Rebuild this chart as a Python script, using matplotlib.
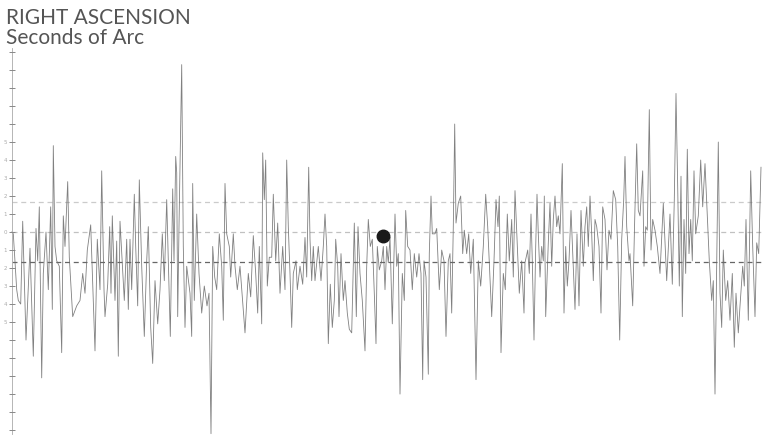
import matplotlib
matplotlib.use("Agg")
import matplotlib.pyplot as plt
import numpy as np

# position along the record (arbitrary units) and right ascension residual (tenths of arc-second)
pos = [11.7, 13.3, 16.7, 18.3, 20.7, 22.7, 26.0, 30.0, 33.3, 36.0, 37.7, 39.3, 41.7, 43.3, 46.0, 48.3,
       50.7, 52.3, 53.3, 55.0, 56.7, 59.3, 61.7, 63.3, 65.0, 67.7, 69.3, 72.7, 76.7, 80.0, 82.7, 85.0,
       87.3, 90.7, 95.0, 97.3, 100.0, 101.7, 104.0,
       105.0, 107.7, 109.7, 111.0, 112.3, 115.0, 116.7, 118.3, 120.0, 122.3, 124.3, 126.7, 128.3, 130.0,
       131.7, 134.3, 135.7, 137.7, 139.3, 141.7, 144.3, 146.7, 148.3, 150.7, 152.7, 155.0, 157.7, 160.0,
       162.3, 164.3, 166.7, 168.3, 170.3, 172.7, 174.0, 175.7, 176.7, 177.7, 179.0, 181.7, 183.3, 185.0,
       186.7, 190.0, 191.7, 192.7, 194.3, 196.7, 199.0, 201.7, 204.3, 207.0, 209.0, 211.0,
       212.7, 214.7, 216.7, 219.3, 221.7, 223.3, 225.0, 226.7, 229.3, 230.7, 233.3, 235.0, 237.3, 240.0,
       242.3, 245.0, 248.3, 250.7, 253.3, 255.7, 257.7, 259.3, 261.7, 262.7, 264.3, 265.7, 267.3, 269.3,
       271.7, 273.3, 275.7, 277.7, 280.0, 282.7, 285.0, 286.7, 288.3, 290.0, 291.7, 293.3, 296.0, 297.3,
       300.0, 302.7, 305.0, 306.7, 308.7, 310.0, 311.7, 313.3,
       315.0, 318.3, 321.0, 323.3, 325.0, 326.7, 328.3, 330.3, 332.3, 334.3, 335.7, 337.7, 339.0, 341.0,
       343.3, 345.0, 347.3, 349.3, 351.7, 354.3, 356.3, 358.0, 360.0, 362.3, 365.0, 366.7, 368.3, 370.3,
       372.3, 374.3, 376.0, 377.3, 379.3, 381.7, 383.3, 385.0, 386.7, 388.3, 390.0, 392.3, 395.0, 396.7,
       398.3, 400.0, 402.3, 404.3, 405.7, 407.7, 410.0, 412.3, 414.3, 416.7, 419.0, 421.0, 422.7,
       424.0, 426.0, 428.3, 429.3, 431.0, 432.3, 435.0, 436.7, 439.3, 441.7, 444.0, 446.0, 448.3, 450.0,
       451.7, 453.3, 454.7, 456.0, 458.3, 460.7, 462.7, 464.3, 466.7, 468.7, 470.7, 473.3, 476.0, 478.3,
       480.7, 483.3, 485.7, 487.7, 490.0, 491.7, 494.0, 496.0, 498.0, 499.3, 501.0, 503.3, 505.3, 507.3,
       509.3, 511.7, 513.3, 515.0, 517.3, 519.3, 521.7, 524.0,
       525.0, 527.7, 529.3, 531.0, 532.3, 534.0, 535.7, 537.0, 538.3, 540.0, 541.7, 543.3, 544.3, 545.7,
       548.3, 550.0, 551.7, 553.3, 555.0, 556.7, 558.3, 560.0, 562.3, 564.0, 565.7, 567.3, 569.0, 571.0,
       572.7, 575.0, 577.0, 579.0, 581.0, 583.3, 585.0, 586.7, 588.3, 590.0, 591.7, 593.3, 595.0, 596.7,
       599.0, 601.0, 602.7, 605.0, 607.0, 609.0, 611.0, 613.3, 615.7, 617.7, 619.7, 621.7, 623.7, 625.0,
       626.7, 629.0,
       630.0, 632.7, 634.7, 636.7, 638.3, 640.0, 642.7, 644.0, 645.7, 647.3, 649.3, 651.0, 652.7, 655.0,
       657.3, 660.0, 663.3, 666.7, 670.0, 672.3, 674.3, 676.0, 677.7, 679.3, 681.0, 682.3, 684.0, 685.7,
       687.3, 689.0, 690.7, 692.3, 694.0, 695.7, 698.3, 700.7, 702.7, 705.0, 707.3, 709.3, 711.7, 713.3,
       715.0, 716.7, 718.3, 720.0, 721.7, 723.3, 725.7, 727.7, 730.0, 732.3, 734.3, 736.0, 738.3, 740.0,
       742.7, 744.3, 746.0, 748.3, 750.7, 752.7, 755.0, 756.7, 758.7, 761.0]

ra = [0.0, -0.1, -3.2, -3.8, -4.0, 0.6, -6.0, -0.9, -6.9, 0.2, -1.6, 1.4, -8.1, -2.3, 0.0, -3.2,
      1.4, -4.3, 4.8, -0.8, -1.6, -1.9, -6.7, 0.9, -0.8, 2.8, -1.4, -4.7, -4.1, -3.8, -2.3, -3.4,
      -1.0, 0.4, -6.6, -0.4, -3.2, 3.4, -3.2,
      -4.7, -2.9, 0.3, -3.4, 0.9, -3.8, -0.5, -6.9, 0.6, -1.7, -3.8, -0.4, -4.3, -0.4,
      -3.2, 2.1, -0.8, -4.1, 2.9, -1.9, -5.8, -1.6, 0.3, -5.3, -7.3, -2.7, -5.1, -3.2,
      -0.1, -2.7, 1.8, -1.6, -5.8, 2.4, -1.6, 4.2, 3.3, -4.7, 0.3, 9.3, -0.8, -5.3,
      -1.9, -3.4, -5.8, 2.7, -3.8, 1.0, -2.3, -4.5, -3.0, -4.1, -3.4, -11.2,
      -0.8, -2.5, -3.2, -0.1, -1.9, -4.9, 2.7, -0.1, -0.8, -2.5, -0.1, -1.9, -3.2, -1.9,
      -3.6, -5.6, -2.3, -3.6, -0.2, -2.3, -4.5, -0.8, -5.1, 4.4, 1.8, 4.0, -3.0, -1.4,
      -1.4, 2.1, -1.6, 0.5, -3.4, -0.8, -3.2, 4.0, 0.3, -2.3, -5.3, -2.3, -1.6, -3.2,
      -1.9, -2.9, -0.3, -2.5, 3.6, -0.4, -2.7, -0.8,
      -2.7, -0.8, -2.7, -0.8, 1.0, -0.8, -6.2, -2.9, -5.3, -3.8, -0.4, -1.9, -4.7, -1.2,
      -3.8, -2.7, -4.5, -5.4, -5.6, 0.5, -4.7, 0.3, -2.3, -3.8, -6.6, -1.9, 0.7, -0.8,
      -0.4, -3.4, -6.2, -0.8, -2.1, -1.6, -0.8, -3.2, -0.8, -1.7, -0.3, -5.1, 1.0, -1.9,
      -1.2, -9.0, -2.3, -3.8, 1.2, -0.8, -1.0, -3.2, -1.2, -2.5, -1.2, -2.3, -8.2,
      -1.6, -2.5, -7.9, -1.2, 2.0, -0.1, -0.1, 0.2, -3.2, -1.0, -1.6, -5.8, -1.6, -1.2,
      -4.5, 0.3, 6.0, 0.5, 1.6, 2.0, -1.2, 0.1, -1.2, -0.1, -2.3, -0.4, -8.2, -1.6,
      -3.0, -0.8, 2.1, 0.3, -2.5, -4.7, -1.6, 1.8, 0.3, 2.0, -6.7, -2.3, -3.2, 1.0,
      -1.6, 0.7, -2.5, 2.3, -0.8, -3.4, -1.6, -4.5,
      -1.7, -1.0, -2.3, 1.0, -1.6, -6.0, -0.8, 2.1, -0.1, -2.5, -0.8, -1.6, 2.0, -4.7,
      -0.6, 1.6, -1.9, 0.7, 2.0, 0.3, 0.9, -0.1, 3.8, -4.5, -0.8, -3.0, -1.6, 1.2,
      -1.2, -4.3, -0.1, -4.1, 1.2, -1.9, 0.3, 1.4, -0.8, 2.0, -0.1, -2.7, 0.7, 0.3,
      -0.8, -4.5, 1.4, 0.7, -2.1, 0.1, -0.4, 2.3, 1.8, -0.8, -6.0, -0.4, 1.8, 4.2,
      0.3, -1.6,
      -1.2, -4.1, 0.7, 4.9, 1.2, 0.9, 3.4, -1.9, 0.3, 0.1, 6.8, -1.0, 0.7, 0.1,
      -0.8, -2.3, 1.6, -2.7, 1.0, -2.9, 1.8, 7.7, 2.5, -3.0, 3.1, -4.7, 0.7, -2.3,
      4.6, -1.2, 0.7, -1.6, 3.4, -0.1, 0.9, 4.0, 1.4, 3.8, 0.9, -1.6, -3.8, -2.7,
      -9.0, -1.9, 5.0, -3.4, -5.3, -1.0, -3.8, -2.7, -4.9, -2.3, -6.4, -3.4, -5.6, -4.1,
      -1.9, -3.0, 0.7, -4.9, 3.4, -0.8, -4.7, -0.6, -1.2, 3.6]

# reference levels and the marked point
levels = [1.67, 0.0, -1.67]
level_alpha = [0.25, 0.3, 0.75]
mark_pos, mark_val = 383, -0.22

tick_vals = list(range(-11, 11))
label_vals = [5, 4, 3, 2, 1, 0, -1, -2, -3, -4, -5]
label_text = ["5", "4", "3", "2", "1", "0", "1", "2", "3", "4", "5"]

fig = plt.figure(figsize=(7.62, 4.36), dpi=100)
ax = fig.add_axes([0, 0, 1, 1])
ax.set_xlim(0, 762)
ax.set_ylim(-11.33, 12.89)
ax.axis("off")

for lv, a in zip(levels, level_alpha):
    ax.plot([12, 762], [lv, lv], color="#333333", lw=0.9, alpha=a,
            dashes=(4, 3))

ax.plot(pos, ra, color="#6a6a6a", lw=0.6, alpha=0.85)
ax.plot([mark_pos], [mark_val], "o", color="#1a1a1a", ms=9)

# left scale
ax.plot([12, 12], [tick_vals[0] - 0.2, tick_vals[-1] + 0.2], color="#aaaaaa", lw=0.6)
ax.plot([12] * len(tick_vals), tick_vals, "_", color="#888888", ms=4, mew=0.7)
for v, s in zip(label_vals, label_text):
    ax.text(5, v, s, fontsize=4, color="#aaaaaa", ha="center", va="center")

fig.text(6 / 762, 1 - 8 / 436, "RIGHT ASCENSION", fontsize=15, color="#555555",
         family="Lato", ha="left", va="top")
fig.text(6 / 762, 1 - 28 / 436, "Seconds of Arc", fontsize=15, color="#555555",
         family="Lato", ha="left", va="top")

fig.savefig("out.png", dpi=100, facecolor="white")
